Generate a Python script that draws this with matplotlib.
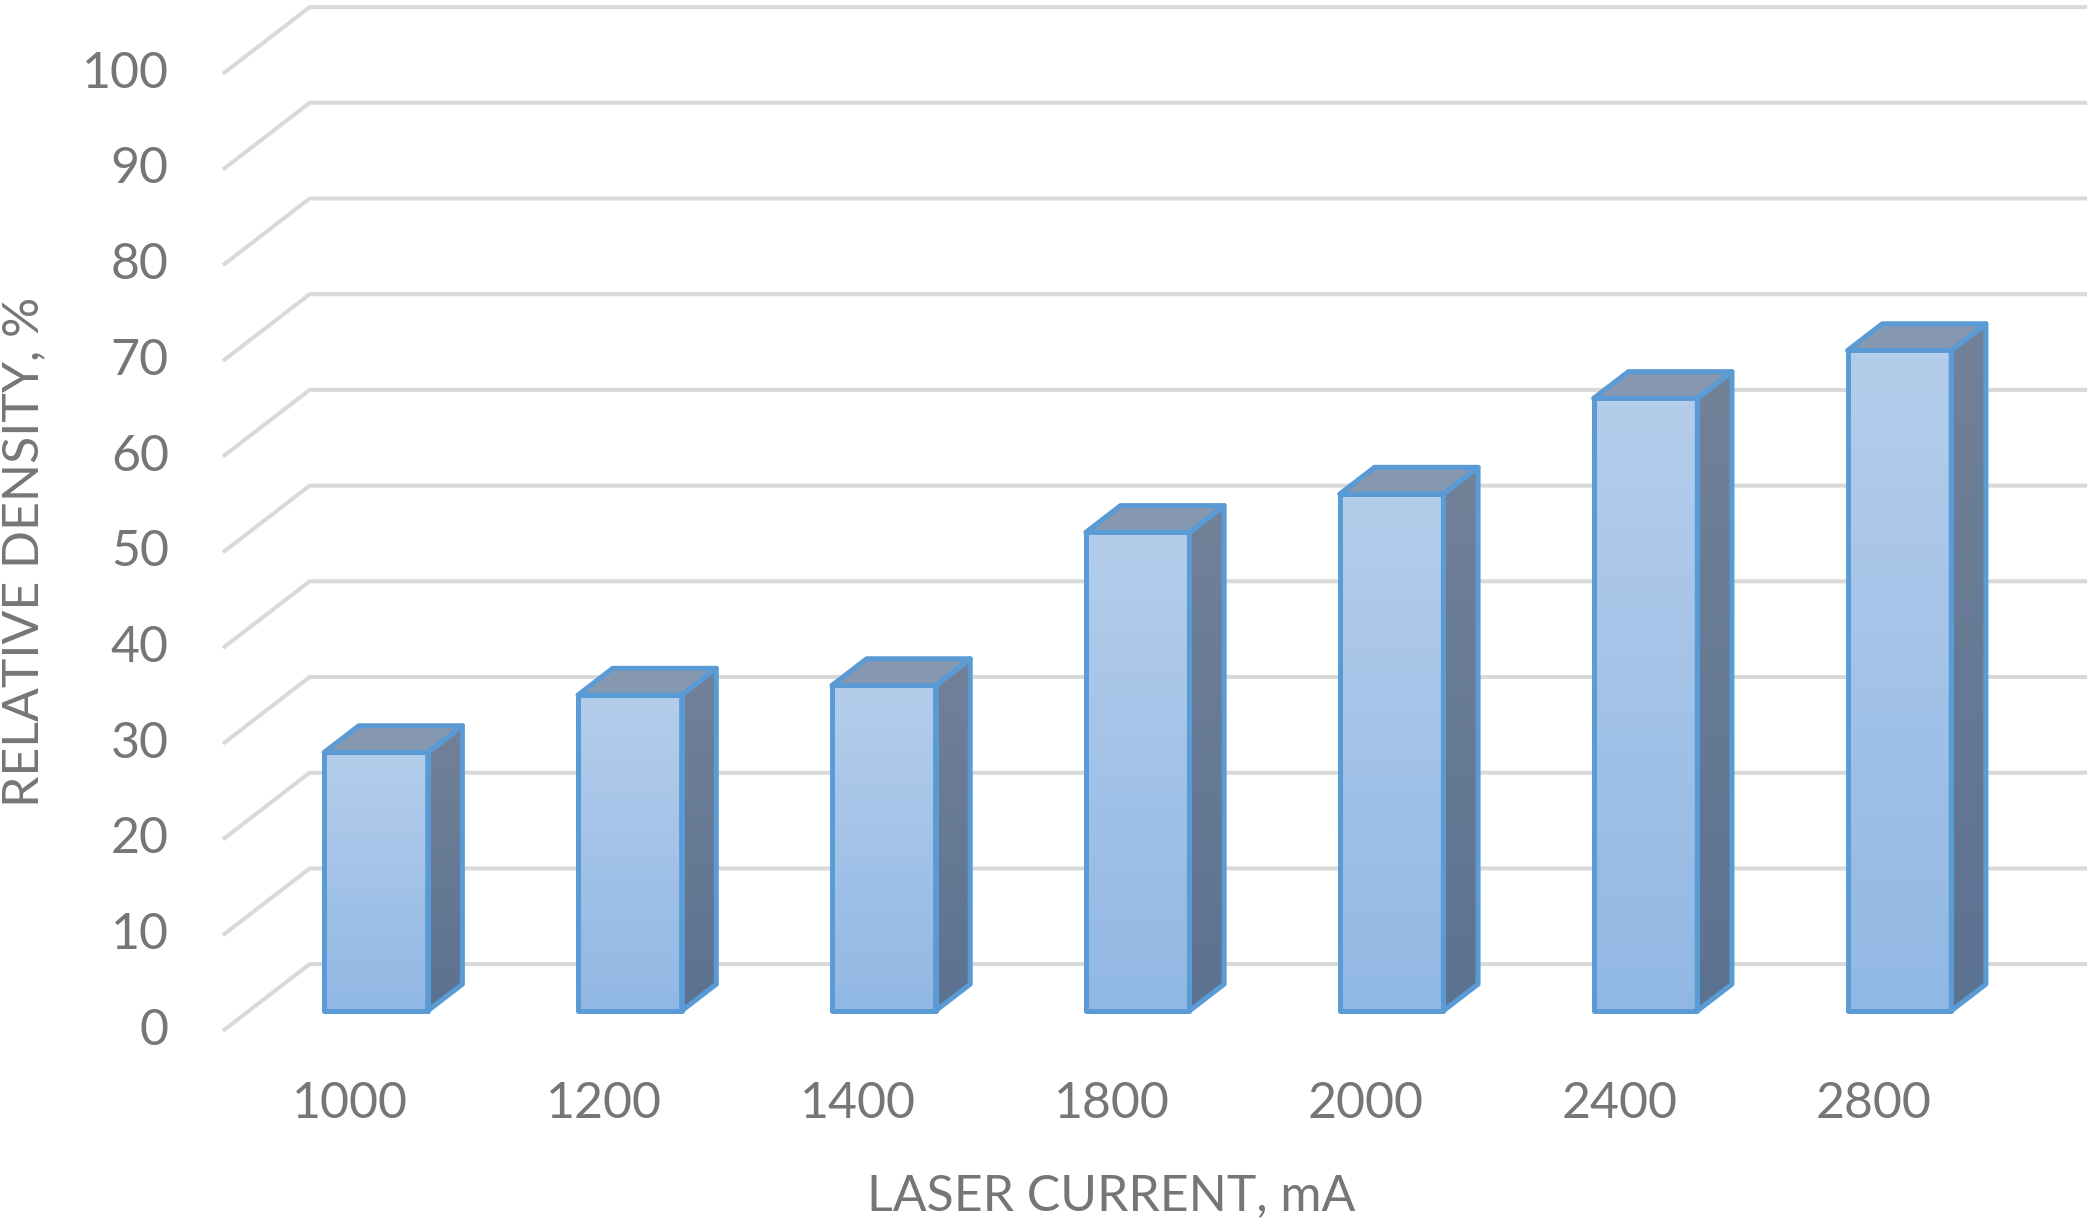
import numpy as np
import matplotlib
matplotlib.use("Agg")
import matplotlib.pyplot as plt
from matplotlib.patches import Polygon
from matplotlib.colors import LinearSegmentedColormap

# ---------------- data ----------------
currents = ["1000", "1200", "1400", "1800", "2000", "2400", "2800"]
density = [27, 33, 34, 50, 54, 64, 69]
yticks = list(range(0, 101, 10))

# ---------------- style ----------------
TEXT = "#767676"
GRID = "#d9d9d9"
EDGE = "#5b9bd5"
FRONT_TOP, FRONT_BOT = "#b4cdeb", "#91b8e4"
SIDE_TOP, SIDE_BOT = "#718198", "#5c7291"
TOP_FACE = "#8698b0"

DX, DY = 0.3415, 6.97       # depth offset of the back wall, in data units
D0, D1 = 0.30, 0.70         # depth range of the bars (fraction of floor depth)
BAR_W = 0.408

plt.rcParams['font.family'] = ['Lato', 'DejaVu Sans']

fig = plt.figure(figsize=(20.91, 12.28), dpi=100)
ax = fig.add_axes([0, 0, 1, 1])
ax.set_xlim(-1.378, 6.857)
ax.set_ylim(-20.6, 107.71)
ax.axis("off")


def proj(x, y, d):
    return (x + DX * d, y + DY * d)


def grad_fill(poly, c_top, c_bot, y0, y1, x0, x1, z):
    cmap = LinearSegmentedColormap.from_list("g", [c_bot, c_top])
    img = np.linspace(0, 1, 64).reshape(-1, 1)
    im = ax.imshow(img, cmap=cmap, extent=[x0, x1, y0, y1], origin="lower",
                   aspect="auto", interpolation="bilinear", zorder=z)
    im.set_clip_path(poly)


# gridlines: side wall diagonal + back wall
n = len(currents)
for v in yticks:
    p0 = (-0.5, v)
    p1 = proj(-0.5, v, 1)
    p2 = proj(n - 0.5, v, 1)
    ax.plot([p0[0], p1[0], p2[0]], [p0[1], p1[1], p2[1]], color=GRID, lw=2.9,
            solid_capstyle="butt", zorder=1)

# bars
for i, v in enumerate(density):
    xl = i - BAR_W / 2
    xr = i + BAR_W / 2
    fbl, fbr = proj(xl, 0, D0), proj(xr, 0, D0)
    ftl, ftr = proj(xl, v, D0), proj(xr, v, D0)
    bbr = proj(xr, 0, D1)
    btl, btr = proj(xl, v, D1), proj(xr, v, D1)

    # side face
    side = Polygon([fbr, bbr, btr, ftr], closed=True, fc="none", ec="none")
    ax.add_patch(side)
    grad_fill(side, SIDE_TOP, SIDE_BOT, fbr[1], btr[1], fbr[0], bbr[0], 2)
    ax.add_patch(Polygon([fbr, bbr, btr, ftr], closed=True, fc="none", ec=EDGE,
                         lw=3.6, joinstyle="round", zorder=4))
    # top face
    ax.add_patch(Polygon([ftl, ftr, btr, btl], closed=True, fc=TOP_FACE, ec=EDGE,
                         lw=3.6, joinstyle="round", zorder=4))
    # front face
    front = Polygon([fbl, fbr, ftr, ftl], closed=True, fc="none", ec="none")
    ax.add_patch(front)
    grad_fill(front, FRONT_TOP, FRONT_BOT, fbl[1], ftl[1], fbl[0], fbr[0], 3)
    ax.add_patch(Polygon([fbl, fbr, ftr, ftl], closed=True, fc="none", ec=EDGE,
                         lw=3.6, joinstyle="round", zorder=5))

# tick labels
for v in yticks:
    ax.text(-0.713, v, str(v), ha="right", va="center", fontsize=36, color=TEXT)
for i, lab in enumerate(currents):
    ax.text(i, -7.65, lab, ha="center", va="center", fontsize=36, color=TEXT)

ax.text(3.0, -17.3, "LASER CURRENT, mA", ha="center", va="center", fontsize=36, color=TEXT)
ax.text(-1.284, 50.0, "RELATIVE DENSITY, %", ha="center", va="center", rotation=90,
        fontsize=36, color=TEXT)

fig.savefig("out.png", dpi=100)
